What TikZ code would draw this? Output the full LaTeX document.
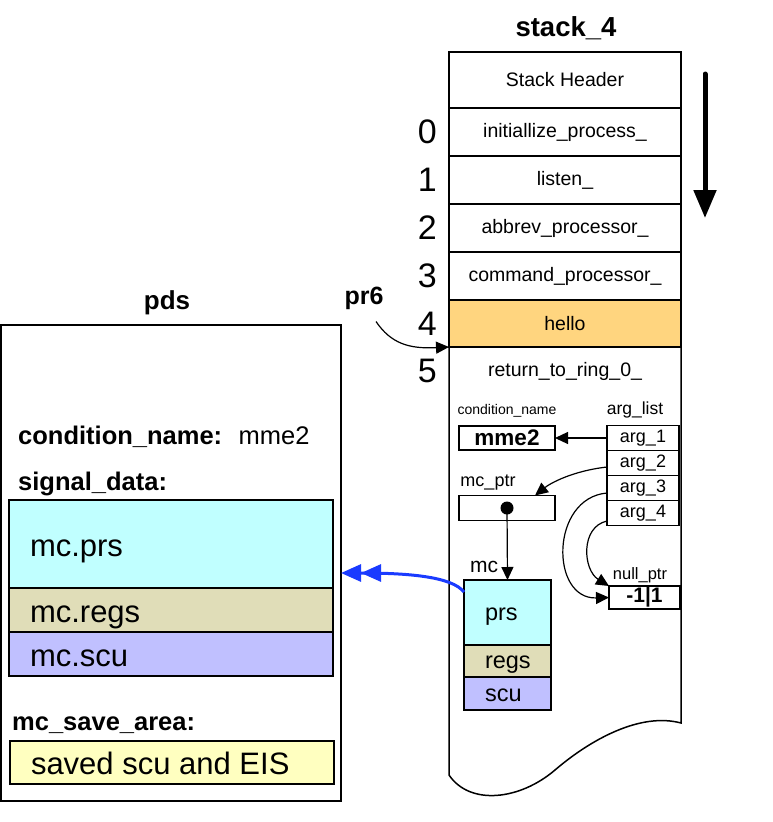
\documentclass[tikz,border=0pt]{standalone}
\usepackage{fontspec}
\setmainfont{Liberation Sans}
\usetikzlibrary{positioning,arrows.meta}

\definecolor{prscol}{HTML}{C0FFFF}
\definecolor{regscol}{HTML}{E0DDB8}
\definecolor{scucol}{HTML}{C0C0FF}
\definecolor{savecol}{HTML}{FFFFC0}
\definecolor{hellocol}{HTML}{FFD57F}
\definecolor{sigblue}{HTML}{1A3BFF}

\newcommand{\mcfield}[1]{\makebox[45pt][l]{#1}}
\newcommand{\sigfield}[1]{\makebox[282pt][l]{#1}}

\tikzset{
  framerow/.style={rectangle, draw=black, line width=1.5pt, outer sep=0pt, minimum width=232pt, minimum height=48pt, inner sep=0pt, font=\fontsize{19.5}{22}\selectfont},
  rownum/.style={inner sep=0pt, font=\fontsize{34}{38}\selectfont},
  cell/.style={rectangle, draw=black, line width=1.5pt, outer sep=0pt, inner sep=0pt},
  argcell/.style={cell, minimum width=72pt, minimum height=25pt, font=\fontsize{18}{20}\selectfont},
  mcbox/.style={cell, minimum width=87pt, inner xsep=21pt, text height=15pt, text depth=0pt, font=\fontsize{23.5}{26}\selectfont},
  sigbox/.style={cell, minimum width=324pt, inner xsep=21pt, text height=24pt, text depth=0pt, font=\fontsize{31}{34}\selectfont},
  keytext/.style={inner sep=0pt, font=\bfseries\fontsize{25.5}{28}\selectfont},
  smalltext/.style={inner sep=0pt},
  ptr/.style={line width=1.2pt, -{Triangle[length=13pt,width=12pt]}}
}

\begin{document}
\begin{tikzpicture}[x=1pt, y=-1pt]
\useasboundingbox (0,0) rectangle (772,822);

% stack frame
\node[smalltext, font=\bfseries\fontsize{27.5}{30}\selectfont] (stacklab) at (566,28) {stack\_4};
\node[framerow, minimum height=56pt] (hdr) at (565,80) {Stack Header};
\draw[line width=1.5pt] (hdr.north west) -- (hdr.north east) -- (681,723)
  .. controls (640,712) and (590,740) .. (555,770)
  .. controls (520,800) and (470,806) .. (449,775) -- cycle;
\node[framerow, below=0pt of hdr] (ini) {initiallize\_process\_};
\node[framerow, below=0pt of ini] (lis) {listen\_};
\node[framerow, below=0pt of lis] (abb) {abbrev\_processor\_};
\node[framerow, below=0pt of abb] (cmd) {command\_processor\_};
\node[framerow, fill=hellocol, minimum height=47pt, below=0pt of cmd] (hello) {hello};
\node[framerow, draw=none, below=0pt of hello] (ret) {return\_to\_ring\_0\_};

\node[rownum, left=12pt of ini] (n0) {0};
\node[rownum, left=12pt of lis] (n1) {1};
\node[rownum, left=12pt of abb] (n2) {2};
\node[rownum, left=12pt of cmd] (n3) {3};
\node[rownum, left=12pt of hello] (n4) {4};
\node[rownum, left=12pt of ret] (n5) {5};

% direction of growth
\coordinate (growtop) at (705,74);
\coordinate (growbot) at (705,218);
\draw[line width=5pt, line cap=round, -{Triangle[length=28pt,width=22pt]}] (growtop) -- (growbot);

% pr6
\node[smalltext, font=\bfseries\fontsize{25}{28}\selectfont] (pr6) at (364,298) {pr6};
\draw[ptr] ([xshift=12pt,yshift=-12pt]pr6.south) .. controls +(15,22) and +(-40,2) .. (hello.south west);

% arguments
\node[smalltext, font=\fontsize{14}{16}\selectfont] (cnlab) at (507,411) {condition\_name};
\node[smalltext, font=\fontsize{17.5}{20}\selectfont] (arglab) at (635,410) {arg\_list};
\node[cell, minimum width=96pt, minimum height=24pt, font=\bfseries\fontsize{22.5}{24}\selectfont] (mme) at (507,438) {mme2};
\node[argcell] (a1) at (643,438) {arg\_1};
\node[argcell, below=0pt of a1] (a2) {arg\_2};
\node[argcell, below=0pt of a2] (a3) {arg\_3};
\node[argcell, below=0pt of a3] (a4) {arg\_4};

\node[smalltext, font=\fontsize{18}{20}\selectfont] (ptrlab) at (488,483) {mc\_ptr};
\node[cell, minimum width=96pt, minimum height=25pt] (mcptr) at (507,508) {};
\node[circle, fill=black, inner sep=0pt, minimum size=13pt] (dot) at (mcptr.center) {};

\node[smalltext, font=\fontsize{21}{24}\selectfont] (mclab) at (484,567) {mc};
\node[mcbox, fill=prscol, minimum height=65pt] (prs) at (507.5,612.5) {\mcfield{prs}};
\node[mcbox, fill=regscol, minimum height=32pt, below=0pt of prs] (regs) {\mcfield{regs}};
\node[mcbox, fill=scucol, minimum height=33pt, below=0pt of regs] (scu) {\mcfield{scu}};

\node[smalltext, font=\fontsize{16.5}{18}\selectfont] (nulllab) at (640,575) {null\_ptr};
\node[cell, minimum width=71pt, minimum height=23pt, font=\bfseries\fontsize{21}{23}\selectfont] (nullbox) at (644.5,597.5) {-1|1};

\draw[ptr] (a1.west) -- (mme.east);
\draw[ptr] ([yshift=-4pt]a2.west) .. controls +(-35,4) and +(15,-12) .. ([xshift=28pt]mcptr.north);
\draw[ptr] ([yshift=-5pt]a3.west) .. controls +(-57,5) and +(-59,2) .. (nullbox.west);
\draw[ptr] ([yshift=-8pt]a4.west) .. controls +(-27,6) and +(-26,-16) .. (nullbox.north west);
\draw[ptr] (dot.center) -- (prs.north);

% pds
\node[smalltext, font=\bfseries\fontsize{26}{28}\selectfont] (pdslab) at (167,303) {pds};
\node[cell, minimum width=340pt, minimum height=476pt, anchor=north west] (pds) at (1,325) {};
\node[keytext, anchor=west] (cnkey) at (18,437) {condition\_name:};
\node[smalltext, font=\fontsize{25.5}{28}\selectfont, anchor=base west] (cnval) at ([xshift=16pt]cnkey.base east) {mme2};
\node[keytext, anchor=west] (sdkey) at (18,484) {signal\_data:};
\node[sigbox, fill=prscol, minimum height=88pt] (sprs) at (171,544) {\sigfield{mc.prs}};
\node[sigbox, fill=regscol, minimum height=44pt, below=0pt of sprs] (sregs) {\sigfield{mc.regs}};
\node[sigbox, fill=scucol, minimum height=44pt, below=0pt of sregs] (sscu) {\sigfield{mc.scu}};
\node[keytext, anchor=west] (mskey) at (12,725) {mc\_save\_area:};
\node[sigbox, fill=savecol, minimum height=43pt] (save) at (172,762.5) {\sigfield{saved scu and EIS}};

% signal data copied from mc
\draw[sigblue, line width=3pt, -{Triangle[length=20pt,width=17pt]Triangle[length=20pt,width=17pt]}]
  ([yshift=-12pt]prs.north west) .. controls +(-12,-15) and +(70,0) .. ([yshift=-10pt]pds.east);
\end{tikzpicture}
\end{document}
